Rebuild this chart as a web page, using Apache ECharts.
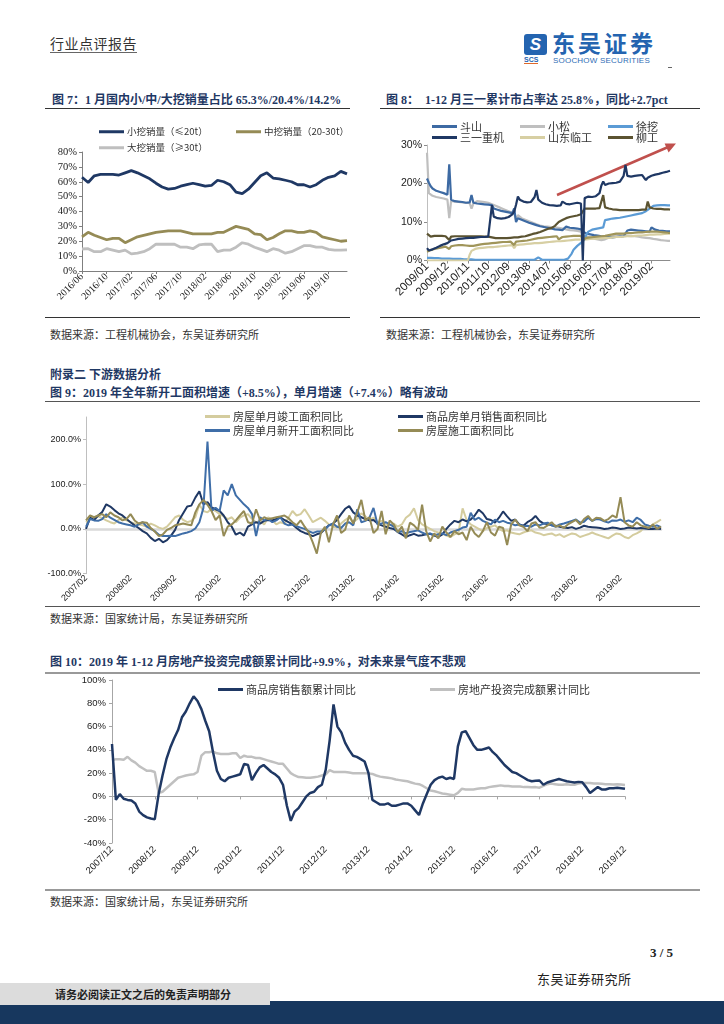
<!DOCTYPE html>
<html><head><meta charset="utf-8">
<script src="https://cdn.jsdelivr.net/npm/echarts@6.0.0/dist/echarts.min.js"></script>
<style>
html,body{margin:0;padding:0;background:#fff;}
#page{position:relative;width:724px;height:1024px;overflow:hidden;background:#fff;}
.t{position:absolute;white-space:nowrap;}
.serif{font-family:"Liberation Serif","Noto Sans CJK SC",serif;}
.title{font-family:"Liberation Serif","Noto Sans CJK SC",serif;font-weight:bold;font-size:12px;color:#1f3864;}
.src{font-family:"Liberation Serif","Noto Sans CJK SC",serif;font-size:11px;color:#333;}
.rule{position:absolute;height:0;border-top:1.5px solid #333;}
.chart{position:absolute;}
</style></head>
<body><div id="page">
<div class="t serif" style="left:50px;top:37px;font-size:14px;color:#333;letter-spacing:0.5px;border-bottom:1px solid #666;line-height:15px;">行业点评报告</div>
<div class="t" style="left:524px;top:34px;width:23px;height:21px;background:#2464b0;border-radius:3px;color:#fff;font:bold italic 17px 'Liberation Sans';text-align:center;line-height:21px;">S</div>
<div class="t" style="left:524px;top:56px;font:bold 7px 'Liberation Sans';color:#2464b0;border-bottom:1.5px solid #e0692a;line-height:7px;">SCS</div>
<div class="t" style="left:552px;top:29px;font-family:'Noto Sans CJK SC';font-weight:bold;font-size:23px;color:#2464b0;letter-spacing:3px;line-height:26px;">东吴证券</div>
<div class="t" style="left:553px;top:56px;font-family:'Liberation Sans';font-size:8px;color:#2f6db5;letter-spacing:0.2px;">SOOCHOW SECURITIES</div>
<div class="t" style="left:668px;top:67px;width:4px;height:1px;background:#666;"></div>

<div class="t title" style="left:52px;top:90px;">图 7：1 月国内小/中/大挖销量占比 65.3%/20.4%/14.2%</div>
<div class="t title" style="left:386px;top:90px;">图 8：&nbsp;&nbsp;1-12 月三一累计市占率达 25.8%，同比+2.7pct</div>
<div class="rule" style="left:45px;top:108px;width:305px;"></div>
<div class="rule" style="left:380px;top:108px;width:320px;"></div>
<div id="c7" class="chart" style="left:40px;top:115px;width:315px;height:200px;"></div>
<div id="c8" class="chart" style="left:380px;top:115px;width:330px;height:200px;"></div>
<div class="rule" style="left:45px;top:317px;width:305px;"></div>
<div class="rule" style="left:380px;top:317px;width:320px;"></div>
<div class="t src" style="left:50px;top:326px;">数据来源：工程机械协会，东吴证券研究所</div>
<div class="t src" style="left:386px;top:326px;">数据来源：工程机械协会，东吴证券研究所</div>

<div class="t title" style="left:50px;top:365px;">附录二&nbsp;下游数据分析</div>
<div class="t title" style="left:50px;top:383px;">图 9：2019 年全年新开工面积增速（+8.5%），单月增速（+7.4%）略有波动</div>
<div class="rule" style="left:45px;top:401px;width:655px;border-top-color:#555;"></div>
<div id="c9" class="chart" style="left:40px;top:401px;width:680px;height:204px;"></div>
<div class="rule" style="left:45px;top:606px;width:655px;border-top-color:#555;"></div>
<div class="t src" style="left:50px;top:610px;">数据来源：国家统计局，东吴证券研究所</div>

<div class="t title" style="left:50px;top:652px;">图 10：2019 年 1-12 月房地产投资完成额累计同比+9.9%，对未来景气度不悲观</div>
<div class="rule" style="left:45px;top:672px;width:655px;border-top:2px solid #999;"></div>
<div id="c10" class="chart" style="left:40px;top:672px;width:680px;height:216px;"></div>
<div class="rule" style="left:45px;top:889px;width:655px;border-top:2px solid #999;"></div>
<div class="t src" style="left:50px;top:893px;">数据来源：国家统计局，东吴证券研究所</div>

<div class="t serif" style="left:650px;top:945px;font-size:13px;font-weight:bold;color:#222;">3 / 5</div>
<div class="t serif" style="left:537px;top:969px;font-size:13px;color:#222;letter-spacing:0.5px;">东吴证券研究所</div>
<div class="t" style="left:0;top:1001px;width:724px;height:23px;background:#17375e;"></div>
<div class="t" style="left:0;top:983px;width:270px;height:22px;background:#dcdcdc;"></div>
<div class="t serif" style="left:55px;top:986px;font-size:11px;font-weight:bold;color:#222;">请务必阅读正文之后的免责声明部分</div>
</div>
<script>
// ---------- Chart 7 data (2016/06 - 2020/01) ----------
var c7Small = [63,59.5,64,65,65,65,64.5,66,67.5,66,64,62,59,56.5,55,55.5,57,58,59,58,57,57.5,61,60,58,53,52,55,59.5,64,66,62.5,62,61,60,58,58,56.5,58,61,63,64,67,65.3];
var c7Mid = [23,26,24,22.5,21,22,22,19,21,23,24,25,26,26.5,27,27,27,26,25,25,25,25,26,26,28,30,29,28,25,24.5,21,22.5,25,27,27,26,26,27,26,23,22,21,20,20.4];
var c7Large = [14.8,15,13,13,15,14,13,14,11.5,12,13,15,18,18,18,18,16,16,15,17.5,18,18,13,14,14,16,19,18,16,14.5,13,15,14,12,13,15,17,17,16,16,14.5,14,14,14.2];
var c7Names = ['小挖销量（≤20t）','中挖销量（20-30t）','大挖销量（≥30t）'];

// ---------- Chart 8 data (2009/01 - 2019/12) ----------
var c8Doosan = [21.3,20.2,19.3,18.7,18.4,18.1,17.9,17.8,17.6,17.5,17.3,17.1,
25,15.8,15.5,15.4,15.3,15.3,15.2,15.2,15.1,15.0,15.0,15.1,
17,15,14.9,14.8,14.8,14.7,14.7,14.6,14.6,14.5,14.5,14.4,
13.5,13.3,13.2,13,12.9,12.8,12.7,12.6,12.5,12.4,12.3,13.5,
10,11,10.8,10.6,10.4,10.2,10.0,9.8,9.6,9.5,9.3,9.2,
9.0,8.9,8.8,8.7,8.6,8.5,8.4,8.3,8.2,8.1,8.0,8.0,
7.9,7.9,7.8,8.8,8.6,8.5,8.4,8.4,8.3,8.3,8.2,8.1,
7.5,7.2,7.0,6.9,6.8,6.7,6.6,6.5,6.5,6.4,6.3,6.3,
6.2,6.2,6.1,6.1,6.0,6.0,6.1,6.1,6.2,6.2,6.3,6.4,
7.8,7.9,8.0,8.0,7.9,7.9,7.8,7.8,7.7,7.7,7.6,7.6,
7.5,8.6,8.2,8.0,7.9,7.8,7.8,7.7,7.7,7.6,7.6,7.6];
var c8Komatsu = [28,17.5,17.0,16.8,16.6,16.5,16.4,16.3,16.2,16.1,16.0,15.8,
11,15.5,15.4,15.3,15.2,15.2,15.1,15.1,15.0,15.0,14.9,14.9,
13.5,14.8,15.3,15.4,15.4,15.3,15.3,15.2,15.1,15.0,14.8,14.6,
14.4,14.2,14.0,13.8,13.6,13.4,13.2,13.0,12.8,12.6,12.4,12.2,
10.5,11.8,11.3,11.0,10.8,10.6,10.4,10.2,10.0,9.8,9.6,9.4,
9.2,9.1,9.0,8.9,8.8,8.8,8.7,8.7,8.6,8.6,8.5,8.5,
8.4,8.3,8.2,8.1,8.0,7.9,7.8,7.8,7.7,7.7,7.6,7.5,
6.5,6.3,6.2,6.0,5.9,5.8,5.7,5.6,5.5,5.4,5.3,5.3,
5.5,5.7,5.9,6.1,6.3,6.5,6.6,6.6,6.6,6.5,6.5,6.4,
6.4,6.4,6.3,6.3,6.3,6.2,6.2,6.1,6.0,5.9,5.9,5.8,
5.8,5.7,5.6,5.5,5.5,5.4,5.3,5.3,5.2,5.2,5.1,5.1];
var c8Xcmg = [0.7,0.7,0.7,0.6,0.6,0.6,0.6,0.6,0.5,0.5,0.5,0.5,
0.5,0.5,0.4,0.4,0.4,0.4,0.4,0.4,0.3,0.3,0.3,0.3,
0.3,0.2,0.2,0.2,0.2,0.2,0.2,0.2,0.2,0.2,0.2,0.2,
0.2,0.2,0.2,0.2,0.2,0.2,0.2,0.2,0.2,0.2,0.2,0.2,
0.2,0.2,0.2,0.2,0.2,0.2,0.2,0.2,0.2,0.2,0.2,0.2,
0.8,0.3,0.2,0.2,0.2,0.2,0.2,0.2,0.2,0.2,0.2,0.2,
0.2,0.2,0.2,0.3,0.5,1.0,1.8,2.8,3.3,3.8,4.2,4.6,
4.9,5.5,6.8,7.5,7.8,8.0,8.1,8.2,8.3,8.4,8.5,8.6,
10.5,10.6,10.7,10.8,10.9,11.0,11.0,11.1,11.1,11.2,11.3,11.4,
11.5,11.6,11.7,11.8,11.9,12.0,12.1,12.2,12.3,12.5,12.8,13.0,
13.5,14.0,14.2,14.3,14.3,14.4,14.4,14.4,14.4,14.4,14.3,14.3];
var c8Sany = [3.2,2.6,2.7,2.9,3.1,3.3,3.5,3.8,4.0,4.2,4.4,4.5,
5.0,5.2,5.3,5.4,5.5,5.6,5.6,5.7,5.7,5.8,5.8,5.9,
5.9,5.9,6.0,6.0,6.0,6.1,6.1,6.1,6.2,6.2,6.2,14.4,
11.4,11.2,11.0,11.0,10.9,10.9,11.0,11.1,11.3,11.6,12.0,12.7,
14.5,16.6,15.8,15.5,15.3,15.2,15.1,15.0,15.2,15.5,16.5,18.3,
15.8,15.4,15.0,14.8,14.6,14.5,14.4,14.4,14.3,14.3,14.2,14.2,
14.3,15.3,14.8,14.7,14.6,14.6,14.7,14.8,14.9,15.0,15.0,14.8,
0,16.2,16.6,16.6,16.5,16.5,16.6,16.7,16.8,17.5,19.5,20.5,
19.6,19.8,20.0,20.0,20.1,20.1,20.2,20.3,20.5,21.0,22.0,24.8,
22.0,21.8,21.8,21.9,22.0,22.1,22.1,22.2,22.2,21.5,20.9,21.5,
21.8,22.0,22.2,22.3,22.4,22.5,22.6,22.8,22.9,23.0,23.2,23.3];
var c8Sdlg = [0,0,0,0,0,0,0,0,0,0,0,0,
0,0,0,0,0,0,0,0,0,0,0,1.5,
2.5,2.8,3.0,3.1,3.2,3.2,3.3,3.3,3.4,3.4,3.5,3.5,
3.5,3.6,3.6,3.7,3.7,3.8,3.8,3.8,3.9,3.9,4.0,3.2,
4.0,4.1,4.1,4.2,4.2,4.2,4.3,4.3,4.4,4.4,4.5,4.5,
4.5,4.6,4.6,4.7,4.7,4.8,4.8,4.9,4.9,5.0,5.0,5.0,
5.0,5.1,5.1,5.2,5.2,5.3,5.3,5.3,5.4,5.4,5.4,5.5,
5.5,5.5,5.5,5.6,5.6,5.6,5.7,5.7,5.7,5.8,5.8,5.8,
5.9,5.9,5.9,6.0,6.0,6.0,6.1,6.1,6.1,6.2,6.2,6.2,
6.3,6.3,6.3,6.4,6.4,6.4,6.5,6.5,6.5,6.6,6.6,6.6,
6.7,6.7,6.7,6.8,6.8,6.8,6.8,6.9,6.9,6.9,7.0,7.0];
var c8Other = [2.3,2.5,2.7,2.9,3.0,3.1,3.2,3.3,3.4,3.5,3.6,3.6,
3.0,3.7,3.8,3.9,3.9,4.0,4.0,4.0,4.0,3.9,3.9,3.8,
3.5,3.8,3.9,4.0,4.1,4.2,4.3,4.3,4.4,4.4,4.5,4.5,
4.5,4.6,4.6,4.7,4.7,4.8,4.8,4.8,4.9,4.9,4.9,4.0,
4.9,5.0,5.0,5.1,5.1,5.2,5.2,5.3,5.4,5.5,5.6,5.7,
5.8,5.8,5.9,5.9,6.0,6.0,6.1,6.1,6.2,6.2,6.3,5.5,
6.0,6.1,6.2,6.2,6.3,6.3,6.4,6.4,6.4,6.4,6.4,6.4,
5.3,5.8,5.9,6.0,6.0,6.1,6.1,6.2,6.2,6.2,6.3,6.3,
6.4,6.5,6.6,6.7,6.8,6.9,7.0,7.0,7.0,7.0,7.0,7.1,
7.1,7.1,7.1,7.2,7.2,7.2,7.3,7.3,7.3,7.4,7.4,7.5,
7.5,7.5,7.5,7.5,7.5,7.5,7.4,7.4,7.3,7.3,7.2,7.2];
var c8Liugong = [7.0,6.5,6.2,6.3,6.4,6.4,6.4,6.4,6.4,6.3,6.3,6.2,
5.3,6.2,6.3,6.3,6.3,6.3,6.3,6.3,6.3,6.3,6.3,6.3,
6.3,6.3,6.3,6.3,6.3,6.3,6.3,6.2,6.2,6.2,6.2,6.0,
5.8,5.8,5.8,5.8,5.8,5.8,5.8,5.8,5.9,5.9,5.9,6.0,
6.0,6.0,6.1,6.2,6.2,6.3,6.5,6.6,6.8,6.9,7.0,7.1,
7.2,7.4,7.6,7.8,8.0,8.2,8.3,8.4,8.5,9.0,9.5,10.0,
10.2,10.5,10.8,11.0,11.2,11.3,11.4,11.5,11.6,11.7,11.8,12.0,
12.3,13.5,13.5,13.5,13.5,13.5,13.5,13.5,13.5,13.6,13.7,17.0,
13.8,13.6,13.5,13.4,13.3,13.2,13.2,13.1,13.1,13.1,13.1,13.1,
13.1,13.1,13.1,13.1,13.1,13.1,13.1,13.2,13.2,13.3,13.2,15.3,
13.8,13.6,13.5,13.5,13.4,13.4,13.4,13.3,13.3,13.3,13.3,13.2];
var c8Names = ['斗山','小松','徐挖','三一重机','山东临工','柳工'];

// ---------- Chart 9 data (2007/02 - 2019/12, Feb-Dec) ----------
var c9Complete = [15,22,26,28,24,19,15,12,20,26,19, 15,12,10,8,5,12,8,3,0,5,15, 26,30,20,15,18,26,54,40,37,45,40,
33,28,22,26,15,25,30,33,22,15,18, 10,26,20,10,15,12,25,40,30,33,44, 30,15,20,25,18,10,5,3,12,20,26,
15,22,35,28,20,25,15,18,10,8,12, 5,10,25,32,46,20,10,5,0,-5,-8, -11,-15,-18,-12,-8,46,20,10,5,0,-5,
2,5,8,0,-5,-3,-8,-10,-12,-8,-5, -3,-8,-10,-14,-12,-10,-15,-12,-18,-14,-10, -12,-18,-15,-12,-8,-12,-15,-18,-21,-15,-10,
-12,-18,-21,-14,-10,-5,5,0,10,15,21];
var c9Sales = [0,25,20,30,38,55,50,42,35,30,22, 15,8,2,-5,-10,-20,-27,-22,-30,-25,-15, -2,20,35,50,52,70,84,55,60,48,44,
40,30,15,5,-13,-8,-15,5,10,15,12, 18,20,19,22,26,20,15,10,2,-5,-9, -12,-16,-12,-9,0,8,12,20,33,45,51,
37,30,26,22,19,20,12,8,5,2,0, -7,-12,-18,-14,-11,-15,-14,-12,-11,-15,-18, -12,0,10,18,15,21,17,21,30,43,35,
22,20,14,25,39,28,18,21,10,7,15, 20,29,18,12,11,8,7,5,3,2,4, 0,3,7,5,4,3,2,0,1,3,2,
0,1,3,2,1,2,1,0,0,1,0];
var c9NewStart = [5,22,19,18,22,33,25,20,15,12,10, 8,5,10,15,5,0,-5,-13,-16,-16,-15, -16,-13,-10,-8,-5,1,15,47,195,40,47,
40,86,75,100,75,65,55,47,33,-16,26, 19,22,15,19,26,12,8,10,6,3,0, -5,-9,-6,-5,-2,8,12,5,2,12,15,
8,44,15,18,25,47,10,12,15,10,5, -7,-5,-10,-7,-5,-3,-8,-12,-10,-14,-12, -10,-14,-8,-5,-2,3,5,36,20,25,18,
14,10,21,15,18,14,12,8,10,6,7, 5,10,8,12,14,8,5,10,12,15,18, 21,14,16,25,18,22,21,17,14,19,18,
21,16,19,15,25,20,10,7,5,8,4];
var c9Construction = [19,30,26,30,33,26,37,30,26,19,22, 33,19,12,15,14,2,-6,-16,-12,-2,2, 8,10,12,10,8,37,55,65,54,40,20,
30,-16,5,10,19,30,40,15,12,44,19, 26,22,24,26,28,30,24,15,8,19,5, -8,-30,-55,-9,5,-30,10,30,-9,-2,30,
12,37,65,19,26,-9,0,40,-12,19,10, -7,5,-21,14,8,-2,54,-5,-28,-10,-21, 5,-8,-18,-5,-12,-8,-25,5,-10,-18,-5,
15,-8,-15,5,2,-36,10,21,8,5,-5, 12,15,3,2,8,15,5,8,2,10,15, 20,10,22,29,18,25,24,18,22,30,25,
71,15,8,5,15,8,5,2,10,0,5];
var c9Names = ['房屋单月竣工面积同比','商品房单月销售面积同比','房屋单月新开工面积同比','房屋施工面积同比'];

// ---------- Chart 10 data (2007/12, 2008/02 - 2019/12) ----------
var c10Sales = [45,
-3,2,-2,-3,-3.5,-6,-13,-16,-18,-19,-19.7,
2,18,32,42,50,57,68,73,80,86,82,
75,65,56,38,22,15,13,16,17,18,19,
28,27,14,20,25,27,24,21,19,16,10,
-8,-21,-13,-10,-5,0,3,4,8,10,23,
48,79,60,55,46,40,35,34,32,30,20,
-3,-5,-7,-7,-6,-8,-8,-7,-6,-6,-8,
-12,-16,-6,2,10,14,16,17,15,16,15,
43,55,56,50,44,40,40,41,42,38,35,
31,27,24,21,20,18,16,14,13,13.5,13.7,
10,12,13,14,15,14,13,12.5,12,12.5,12.2,
8,3,5.5,8,6,6,7,7,7.5,7,6.5];
var c10Invest = [31,
32,32,31.5,34,31,29,26,24,22,22,21,
3,4,7,10,13,16,17,18,18.6,19,21,
35,38,38,38.5,37,36.5,36.5,36.5,37,37,33,
35,34,34,33,33,32,31,30,29,28,28,
24,20,18,16.6,16.5,16,16,16.5,17,18,19,
22.5,21,21,21,21,20.5,20,20,20,20,19.8,
19.3,18,17,16.5,16,15.5,14.5,14,13.5,13,12,
11,10.5,9,7,5,4.5,3.5,2.5,2,1.5,1,
3,6.5,6,6,6,6.5,7,7,8,8.5,9,
9.5,9,9,8.5,8.5,8.5,8,8,7.8,8,7.5,
9,10.5,11,10.5,10,10,10.5,10,10,11,11.5,
11.6,11.5,11.2,11,10.8,10.5,10.5,10.3,10.5,10.2,9.9];
var c10Names = ['商品房销售额累计同比','房地产投资完成额累计同比'];

function monthList(y0, m0, y1, m1, skipJan) {
  var out = [], y = y0, m = m0;
  while (y < y1 || (y === y1 && m <= m1)) {
    if (!(skipJan && m === 1)) out.push(y + '/' + (m < 10 ? '0' + m : m));
    m++; if (m > 12) { m = 1; y++; }
  }
  return out;
}
var c7Months = monthList(2016, 6, 2020, 1, false);
var c8Months = monthList(2009, 1, 2019, 12, false);
var c9Months = monthList(2007, 2, 2019, 12, true);
var c10Months = ['2007/12'].concat(monthList(2008, 2, 2019, 12, true));

var SERIF = '"Liberation Serif","Noto Sans CJK SC",serif';
var SANS = '"Liberation Sans","Noto Sans CJK SC",sans-serif';
var CJK = '"Noto Sans CJK SC",sans-serif';
var NAVY = '#1f3864', OLIVE = '#958b56', GRAY = '#bfbfbf';

function line(name, data, color, width, extra) {
  var s = {name: name, type: 'line', data: data, showSymbol: false, symbol: 'none',
    lineStyle: {color: color, width: width}, itemStyle: {color: color}, emphasis: {disabled: true}};
  if (extra) for (var k in extra) s[k] = extra[k];
  return s;
}
function legendAt(left, top, names, orient, gap, fs) {
  return {left: left, top: top, orient: orient || 'horizontal', itemGap: gap, icon: 'rect',
    itemWidth: 25, itemHeight: 3, data: names, selectedMode: false, width: 400,
    textStyle: {fontFamily: CJK, fontSize: fs || 10, color: '#333', padding: [0, 0, 0, -2]}};
}

// ---------- Chart 7 ----------
var ch7 = echarts.init(document.getElementById('c7'));
ch7.setOption({
  animation: false,
  grid: {left: 42, top: 37, right: 8, height: 119},
  legend: [legendAt(54, 7, [c7Names[0]], 'horizontal', 10, 9.5),
           legendAt(191, 7, [c7Names[1]], 'horizontal', 10, 9.5),
           legendAt(54, 23, [c7Names[2]], 'horizontal', 10, 9.5)],
  xAxis: {type: 'category', data: c7Months, boundaryGap: false,
    axisLine: {lineStyle: {color: '#7f7f7f', width: 1}},
    axisTick: {interval: 3, length: 3, lineStyle: {color: '#7f7f7f'}},
    axisLabel: {interval: 3, rotate: 45, fontFamily: SERIF, fontSize: 10, color: '#222', margin: 4}},
  yAxis: {type: 'value', min: 0, max: 80, interval: 10, splitLine: {show: false},
    axisLine: {show: true, lineStyle: {color: '#7f7f7f'}}, axisTick: {show: true, length: 3, lineStyle: {color: '#7f7f7f'}},
    axisLabel: {formatter: '{value}%', fontFamily: SERIF, fontSize: 10.5, color: '#222', margin: 5}},
  series: [line(c7Names[2], c7Large, GRAY, 2.8), line(c7Names[1], c7Mid, OLIVE, 2.8), line(c7Names[0], c7Small, NAVY, 2.8)]
});

// ---------- Chart 8 ----------
var ch8 = echarts.init(document.getElementById('c8'));
ch8.setOption({
  animation: false,
  grid: {left: 47, top: 30, right: 40, height: 115.5},
  legend: [legendAt(47, 1, [c8Names[0], c8Names[3]], 'vertical', 0, 11),
           legendAt(135, 1, [c8Names[1], c8Names[4]], 'vertical', 0, 11),
           legendAt(223, 1, [c8Names[2], c8Names[5]], 'vertical', 0, 11)],
  xAxis: {type: 'category', data: c8Months, boundaryGap: false,
    axisLine: {lineStyle: {color: '#8c8c8c'}},
    axisTick: {interval: 10, length: 3, lineStyle: {color: '#8c8c8c'}},
    axisLabel: {interval: 10, rotate: 45, fontFamily: SANS, fontSize: 11.5, color: '#222', margin: 4}},
  yAxis: {type: 'value', min: 0, max: 30, interval: 10, splitLine: {show: false},
    axisLine: {show: true, lineStyle: {color: '#bfbfbf'}}, axisTick: {show: true, length: 3, lineStyle: {color: '#8c8c8c'}},
    axisLabel: {formatter: '{value}%', fontFamily: SANS, fontSize: 10.5, color: '#222', margin: 5}},
  series: [
    line(c8Names[1], c8Komatsu, '#bfbfbf', 2.2),
    line(c8Names[0], c8Doosan, '#3d6aa3', 2.2),
    line(c8Names[2], c8Xcmg, '#5b9bd5', 2.2),
    line(c8Names[4], c8Sdlg, '#d7cfa3', 2.2),
    line('', c8Other, '#a0955a', 2.2),
    line(c8Names[5], c8Liugong, '#5b5331', 2.2),
    line(c8Names[3], c8Sany, NAVY, 2.2)
  ],
  graphic: [
    {type: 'line', shape: {x1: 177, y1: 80, x2: 287, y2: 32.5}, style: {stroke: '#c0504d', lineWidth: 2.5}, silent: true},
    {type: 'polygon', shape: {points: [[296, 28.5], [284.6, 28.4], [288.6, 37.6]]}, style: {fill: '#c0504d'}, silent: true}
  ]
});

// ---------- Chart 9 ----------
var ch9 = echarts.init(document.getElementById('c9'));
ch9.setOption({
  animation: false,
  grid: {left: 46, top: 16, right: 59, height: 163},
  legend: [legendAt(160, 5, [c9Names[0], c9Names[2]], 'vertical', 3, 11),
           legendAt(353, 5, [c9Names[1], c9Names[3]], 'vertical', 3, 11)],
  xAxis: {type: 'category', data: c9Months, boundaryGap: false,
    axisLine: {onZero: true, lineStyle: {color: '#d9d9d9', width: 2.5}},
    axisTick: {show: false},
    axisLabel: {interval: 10, rotate: 45, fontFamily: SANS, fontSize: 9, color: '#222', margin: 3}},
  yAxis: {type: 'value', min: -100, max: 250, interval: 100, splitLine: {show: false},
    axisLine: {show: true, lineStyle: {color: '#bfbfbf'}}, axisTick: {show: true, length: 3, lineStyle: {color: '#bfbfbf'}},
    axisLabel: {showMaxLabel: false, formatter: function (v) { return v.toFixed(1) + '%'; }, fontFamily: SANS, fontSize: 9, color: '#222', margin: 5}},
  series: [
    line(c9Names[0], c9Complete, '#d4cc9e', 2),
    line(c9Names[1], c9Sales, NAVY, 2),
    line(c9Names[2], c9NewStart, '#3f6ea8', 2),
    line(c9Names[3], c9Construction, '#958b56', 2)
  ]
});

// ---------- Chart 10 ----------
var ch10 = echarts.init(document.getElementById('c10'));
ch10.setOption({
  animation: false,
  grid: {left: 72, top: 8, right: 95, height: 163},
  legend: [legendAt(173, 7, [c10Names[0]], 'horizontal', 10, 11),
           legendAt(385, 7, [c10Names[1]], 'horizontal', 10, 11)],
  xAxis: [
    {type: 'category', data: c10Months, boundaryGap: false, position: 'bottom',
      axisLine: {show: false, onZero: false}, axisTick: {show: false},
      axisLabel: {interval: 10, rotate: 45, fontFamily: SANS, fontSize: 9.5, color: '#222', margin: 5}},
    {type: 'category', data: c10Months, boundaryGap: false, position: 'bottom',
      axisLine: {show: true, onZero: true, lineStyle: {color: '#a6a6a6'}},
      axisTick: {show: true, interval: 10, length: 3, lineStyle: {color: '#a6a6a6'}},
      axisLabel: {show: false}}
  ],
  yAxis: {type: 'value', min: -40, max: 100, interval: 20, splitLine: {show: false},
    axisLine: {show: true, lineStyle: {color: '#a6a6a6'}}, axisTick: {show: true, length: 3, lineStyle: {color: '#a6a6a6'}},
    axisLabel: {formatter: '{value}%', fontFamily: SANS, fontSize: 9.5, color: '#222', margin: 6}},
  series: [
    line(c10Names[1], c10Invest, '#c0c0c0', 2.5, {xAxisIndex: 0}),
    line(c10Names[0], c10Sales, NAVY, 2.5, {xAxisIndex: 0})
  ]
});
</script>
</body></html>
